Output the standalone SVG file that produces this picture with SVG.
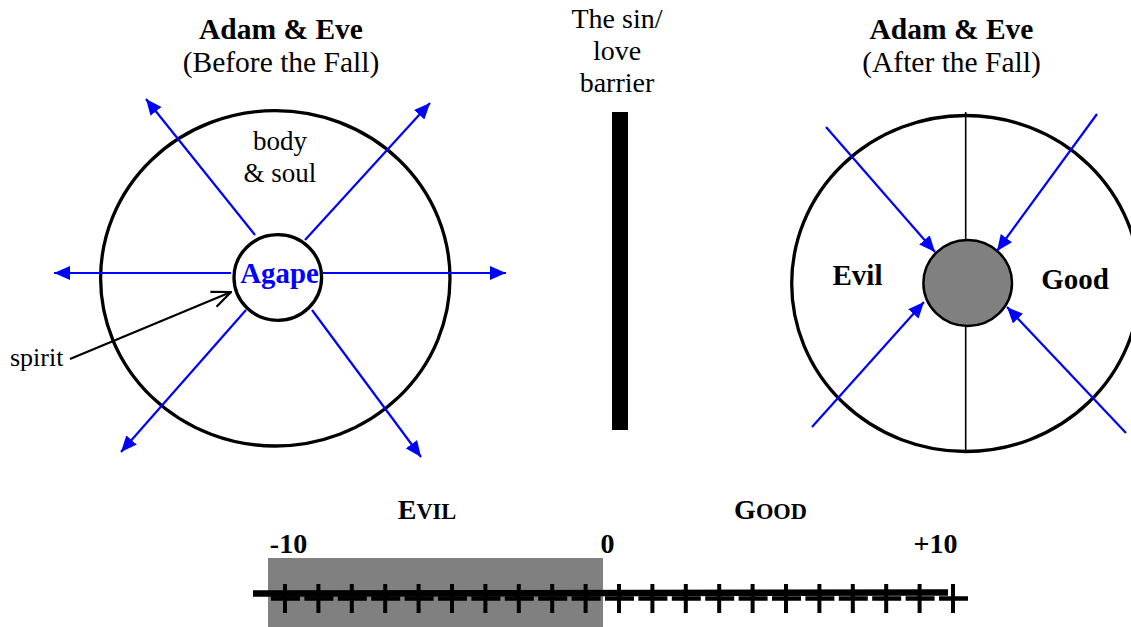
<svg xmlns="http://www.w3.org/2000/svg" width="1131" height="627" viewBox="0 0 1131 627" font-family="Liberation Serif, Times New Roman, serif">
<style>
text{font-family:'Liberation Serif','Times New Roman',serif;fill:#000}
.t{font-size:28px;text-anchor:middle}
.h{font-size:29.5px}
.b{font-weight:bold}
.ring{fill:none;stroke:#000;stroke-width:3.3}
.blue{stroke:#0000ff;stroke-width:2.2;fill:none}
</style>
<defs>
<marker id="ah" viewBox="0 0 16 14" refX="16" refY="7" markerWidth="16" markerHeight="14" orient="auto" markerUnits="userSpaceOnUse">
<path d="M0,0 L16,7 L0,14 z" fill="#0000ff"/>
</marker>
<marker id="oh" viewBox="0 0 22 20" refX="21" refY="10" markerWidth="22" markerHeight="20" orient="auto" markerUnits="userSpaceOnUse">
<path d="M2,2 L21,10 L2,18" fill="none" stroke="#000" stroke-width="2.2"/>
</marker>
</defs>
<rect width="1131" height="627" fill="#fff"/>

<g id="before-title">
<text class="t h b" x="281" y="39">Adam &amp; Eve</text>
<text class="t h" x="281" y="72">(Before the Fall)</text>
</g>
<g id="before-body">
<ellipse class="ring" cx="275.3" cy="278.3" rx="174.7" ry="167.7"/>
<text class="t" x="280" y="150" style="font-size:27px">body</text>
<text class="t" x="280" y="182" style="font-size:27px">&amp; soul</text>
</g>
<g id="before-spirit">
<ellipse class="ring" cx="277.8" cy="277.5" rx="43.8" ry="42.8"/>
<text class="t b" x="279.5" y="283" style="fill:#0000ff;font-size:28.8px">Agape</text>
</g>
<g id="spirit-label">
<text x="10" y="366" style="font-size:26px">spirit</text>
</g>

<g id="barrier">
<text class="t" x="617" y="28">The sin/</text>
<text class="t" x="617" y="60">love</text>
<text class="t" x="617" y="92">barrier</text>
<rect x="612" y="112" width="16" height="318" fill="#000"/>
</g>

<g id="after-title">
<text class="t h b" x="951.5" y="39">Adam &amp; Eve</text>
<text class="t h" x="951.5" y="72">(After the Fall)</text>
</g>
<g id="after-body">
<ellipse class="ring" cx="965.7" cy="283.5" rx="174" ry="168"/>
<line x1="965.7" y1="112" x2="965.7" y2="452" stroke="#000" stroke-width="1.6"/>
<text class="t b" x="857.5" y="285" style="font-size:29px">Evil</text>
<text class="t b" x="1075" y="289" style="font-size:29px">Good</text>
</g>
<g id="after-spirit">
<ellipse cx="967.7" cy="283" rx="44.3" ry="43" fill="#808080" stroke="#000" stroke-width="2.5"/>
</g>

<g id="connectors">
<line class="blue" x1="255" y1="235" x2="146" y2="99" marker-end="url(#ah)"/>
<line class="blue" x1="305" y1="240" x2="430" y2="103" marker-end="url(#ah)"/>
<line class="blue" x1="231" y1="273" x2="54" y2="273" marker-end="url(#ah)"/>
<line class="blue" x1="323" y1="273" x2="506" y2="273" marker-end="url(#ah)"/>
<line class="blue" x1="246" y1="310" x2="121" y2="452" marker-end="url(#ah)"/>
<line class="blue" x1="312" y1="310" x2="421" y2="457" marker-end="url(#ah)"/>
<line x1="70" y1="359" x2="231" y2="292" stroke="#000" stroke-width="2.2" marker-end="url(#oh)"/>
<line class="blue" x1="826" y1="127" x2="935" y2="252" marker-end="url(#ah)"/>
<line class="blue" x1="1097" y1="114" x2="997" y2="251" marker-end="url(#ah)"/>
<line class="blue" x1="812" y1="427" x2="924" y2="302" marker-end="url(#ah)"/>
<line class="blue" x1="1126" y1="433" x2="1007" y2="307" marker-end="url(#ah)"/>
</g>

<g id="scale">
<rect x="268" y="558" width="335" height="69" fill="#808080"/>
<line x1="253" y1="593.5" x2="948" y2="592.5" stroke="#000" stroke-width="6.5"/>
<g stroke="#000">
<path stroke-width="4" d="M285,584V613 M318.4,584V613 M351.8,584V613 M385.2,584V613 M418.6,584V613 M452,584V613 M485.4,584V613 M518.8,584V613 M552.2,584V613 M585.6,584V613 M619,584V613 M652.4,584V613 M685.8,584V613 M719.2,584V613 M752.6,584V613 M786,584V613 M819.4,584V613 M852.8,584V613 M886.2,584V613 M919.6,584V613 M953,584V613"/>
<path stroke-width="4.3" d="M271,598.5h29 M304.4,598.5h29 M337.8,598.5h29 M371.2,598.5h29 M404.6,598.5h29 M438,598.5h29 M471.4,598.5h29 M504.8,598.5h29 M538.2,598.5h29 M571.6,598.5h29 M605,598.5h29 M638.4,598.5h29 M671.8,598.5h29 M705.2,598.5h29 M738.6,598.5h29 M772,598.5h29 M805.4,598.5h29 M838.8,598.5h29 M872.2,598.5h29 M905.6,598.5h29 M939,598.5h29"/>
</g>
<text class="t b" x="427" y="519">E<tspan style="font-size:22.4px">VIL</tspan></text>
<text class="t b" x="770.5" y="519">G<tspan style="font-size:22.4px">OOD</tspan></text>
<text class="t b" x="288.5" y="553">-10</text>
<text class="t b" x="607.5" y="553">0</text>
<text class="t b" x="935.5" y="553">+10</text>
</g>
</svg>
